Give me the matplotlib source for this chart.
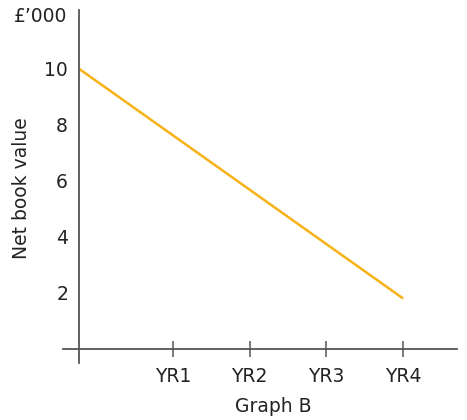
import matplotlib.pyplot as plt

plt.rcParams['font.family'] = ['DejaVu Sans']

# data
years = ["YR1", "YR2", "YR3", "YR4"]
year_pos = [1, 2, 3, 4]
line_x = [-0.22, 4]          # starts at the vertical axis, ends at YR4
line_y = [10, 1.8]
y_ticks = [2, 4, 6, 8, 10]

W, H = 467, 420
fig = plt.figure(figsize=(W / 100, H / 100), dpi=100)

# axes box spans the drawn axis lines (pixels: x 63-457, y 10-363)
ax = fig.add_axes([63 / W, (H - 363) / H, (457 - 63) / W, (363 - 10) / H])
ax.set_xlim(-0.43, 4.70)
ax.set_ylim(-0.5, 12.1)

axis_col = "#555555"
text_col = "#222222"
fs = 13.5

ax.plot(line_x, line_y, color="#F6B216", linewidth=1.8, solid_capstyle="butt")

for s in ["top", "right"]:
    ax.spines[s].set_visible(False)
ax.spines["left"].set_position(("data", -0.22))
ax.spines["bottom"].set_position(("data", 0))
for s in ["left", "bottom"]:
    ax.spines[s].set_color(axis_col)
    ax.spines[s].set_linewidth(1.3)

ax.set_yticks(y_ticks)
ax.set_yticklabels([str(v) for v in y_ticks])
ax.tick_params(axis="y", length=0, pad=8, labelsize=fs, labelcolor=text_col)

ax.set_xticks(year_pos)
ax.set_xticklabels(years)
ax.tick_params(axis="x", direction="inout", length=12, width=1.1, color=axis_col,
               pad=7, labelsize=fs, labelcolor=text_col)

fig.text(67 / W, 1 - 17 / H, "£\u2019000", ha="right", va="center",
         fontsize=fs, color=text_col)
fig.text(22 / W, 1 - 188 / H, "Net book value", ha="center", va="center",
         rotation=90, fontsize=fs, color=text_col)
fig.text(273 / W, 1 - 407 / H, "Graph B", ha="center", va="center",
         fontsize=fs, color=text_col)

fig.savefig("out.png", dpi=100)
